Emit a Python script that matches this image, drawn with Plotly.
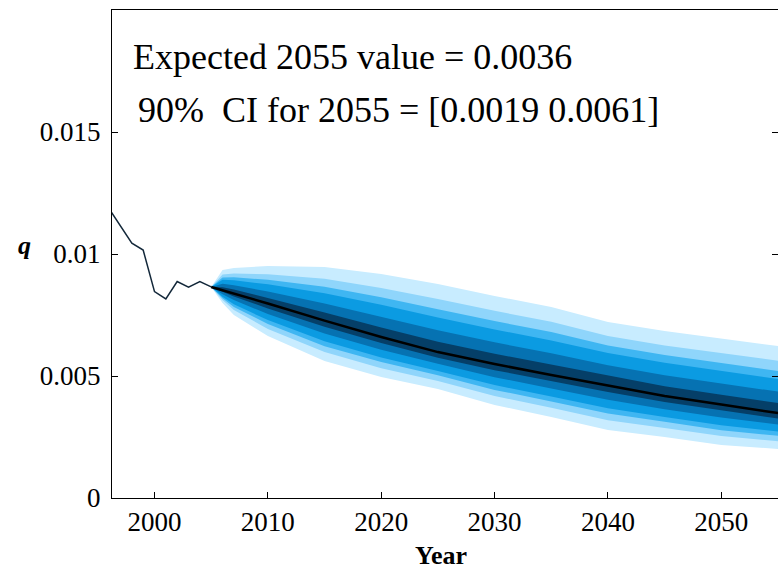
import plotly.graph_objects as go

# Observed series
hist_years = [1996, 1997, 1998, 1999, 2000, 2001, 2002, 2003, 2004, 2005]
hist_q = [0.01185, 0.01114, 0.01044, 0.01016, 0.00846, 0.00816, 0.00887, 0.00864, 0.00887, 0.00865]

# Forecast quantiles
fc_years = [2005, 2006, 2007, 2010, 2015, 2020, 2025, 2030, 2035, 2040, 2045, 2050, 2055]
q50 = [0.00865, 0.00852, 0.00839, 0.00797, 0.00727, 0.00660, 0.00598, 0.00549, 0.00504, 0.00461, 0.00418, 0.00383, 0.00348]
q95 = [0.00865, 0.00934, 0.00943, 0.00951, 0.00947, 0.00918, 0.00877, 0.00828, 0.00783, 0.00721, 0.00684, 0.00652, 0.00623]
q90 = [0.00865, 0.00916, 0.00920, 0.00917, 0.00899, 0.00861, 0.00816, 0.00767, 0.00722, 0.00664, 0.00625, 0.00593, 0.00563]
q85 = [0.00865, 0.00904, 0.00905, 0.00894, 0.00866, 0.00823, 0.00774, 0.00725, 0.00680, 0.00625, 0.00586, 0.00552, 0.00521]
q80 = [0.00865, 0.00894, 0.00892, 0.00876, 0.00839, 0.00792, 0.00740, 0.00691, 0.00646, 0.00594, 0.00554, 0.00520, 0.00488]
q70 = [0.00865, 0.00878, 0.00872, 0.00846, 0.00797, 0.00743, 0.00687, 0.00638, 0.00593, 0.00544, 0.00503, 0.00469, 0.00436]
q60 = [0.00865, 0.00864, 0.00855, 0.00820, 0.00760, 0.00699, 0.00640, 0.00591, 0.00546, 0.00500, 0.00458, 0.00423, 0.00389]
q40 = [0.00865, 0.00844, 0.00826, 0.00777, 0.00702, 0.00635, 0.00575, 0.00524, 0.00478, 0.00434, 0.00393, 0.00358, 0.00326]
q30 = [0.00865, 0.00835, 0.00811, 0.00754, 0.00674, 0.00608, 0.00550, 0.00495, 0.00449, 0.00403, 0.00364, 0.00330, 0.00301]
q20 = [0.00865, 0.00825, 0.00794, 0.00729, 0.00642, 0.00576, 0.00521, 0.00463, 0.00416, 0.00368, 0.00332, 0.00298, 0.00273]
q15 = [0.00865, 0.00819, 0.00783, 0.00713, 0.00622, 0.00557, 0.00503, 0.00443, 0.00396, 0.00346, 0.00312, 0.00278, 0.00255]
q10 = [0.00865, 0.00811, 0.00770, 0.00693, 0.00598, 0.00532, 0.00480, 0.00418, 0.00370, 0.00319, 0.00287, 0.00254, 0.00233]
q5 = [0.00865, 0.00799, 0.00750, 0.00664, 0.00561, 0.00496, 0.00447, 0.00381, 0.00332, 0.00279, 0.00250, 0.00217, 0.00201]

# Nested bands, outermost first
bands = [
    (q95, q5, "#c8ecff"),
    (q90, q10, "#8fd5fb"),
    (q85, q15, "#3fb6f2"),
    (q80, q20, "#0b9be2"),
    (q70, q30, "#0672b2"),
    (q60, q40, "#053f68"),
]

x_ticks = [2000, 2010, 2020, 2030, 2040, 2050]
y_ticks = [0, 0.005, 0.01, 0.015]
y_tick_text = ["0", "0.005", "0.01", "0.015"]
y_range = [0, 0.02]

SERIF = "Liberation Serif, Times New Roman, serif"

fig = go.Figure()

for upper, lower, color in bands:
    fig.add_trace(go.Scatter(
        x=fc_years + fc_years[::-1],
        y=upper + lower[::-1],
        fill="toself", fillcolor=color,
        mode="lines", line=dict(width=0, color=color),
        hoverinfo="skip", showlegend=False,
    ))

fig.add_trace(go.Scatter(x=fc_years, y=q50, mode="lines",
                         line=dict(color="#000000", width=2.5),
                         showlegend=False))
fig.add_trace(go.Scatter(x=hist_years, y=hist_q, mode="lines",
                         line=dict(color="#13283a", width=1.5),
                         showlegend=False))

# invisible trace that carries the right-hand tick marks
fig.add_trace(go.Scatter(x=[None], y=[None], yaxis="y2", showlegend=False,
                         hoverinfo="skip"))

fig.add_annotation(xref="paper", yref="paper", x=0.029, y=0.904,
                   xanchor="left", yanchor="middle", showarrow=False,
                   text="Expected 2055 value = 0.0036",
                   font=dict(family=SERIF, size=36, color="black"))
fig.add_annotation(xref="paper", yref="paper", x=0.036, y=0.795,
                   xanchor="left", yanchor="middle", showarrow=False,
                   text="90%&nbsp; CI for 2055 = [0.0019 0.0061]",
                   font=dict(family=SERIF, size=36, color="black"))
# axis titles
fig.add_annotation(xref="paper", yref="paper", x=-0.131, y=0.518,
                   xanchor="center", yanchor="middle", showarrow=False,
                   text="<b><i>q</i></b>",
                   font=dict(family=SERIF, size=26, color="black"))
fig.add_annotation(xref="paper", yref="paper", x=0.494, y=-0.117,
                   xanchor="center", yanchor="middle", showarrow=False,
                   text="<b>Year</b>",
                   font=dict(family=SERIF, size=26, color="black"))

fig.update_layout(
    width=778, height=566,
    margin=dict(l=112, r=0, t=10, b=68),
    paper_bgcolor="white", plot_bgcolor="white",
    font=dict(family=SERIF, size=27, color="black"),
    xaxis=dict(
        range=[1996.25, 2055], tickvals=x_ticks,
        showline=True, linecolor="black", linewidth=1, mirror=True,
        ticks="inside", ticklen=6, tickcolor="black",
        showgrid=False, zeroline=False,
    ),
    yaxis=dict(
        range=y_range, tickvals=y_ticks, ticktext=y_tick_text,
        showline=True, linecolor="black", linewidth=1, mirror=False,
        ticks="inside", ticklen=6, tickcolor="black", ticklabelstandoff=5,
        showgrid=False, zeroline=False,
    ),
    yaxis2=dict(
        overlaying="y", side="right", range=y_range, tickvals=y_ticks,
        showticklabels=False, showline=False, ticks="inside", ticklen=6,
        tickcolor="black", showgrid=False, zeroline=False,
    ),
)

fig.write_html("out.html")
